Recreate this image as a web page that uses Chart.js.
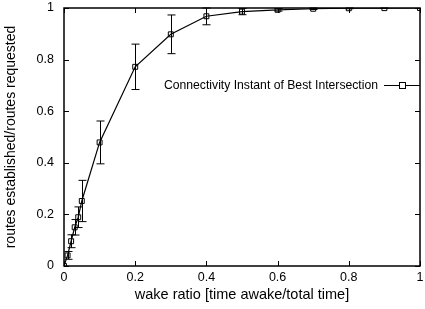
<!DOCTYPE html>
<html lang="en">
<head>
  <meta charset="UTF-8">
  <title>Connectivity vs wake ratio</title>
  <script src="https://cdn.jsdelivr.net/npm/chart.js"></script>
  <style>
    body { margin: 0; background: #fff; }
    #wrap { width: 425px; height: 309px; }
  </style>
</head>
<body>
<div id="wrap"><canvas id="c" width="425" height="309"></canvas></div>
<script>
  // data
  const wakeRatio = [0, 0.01, 0.02, 0.03, 0.04, 0.05, 0.1, 0.2, 0.3, 0.4, 0.5, 0.6, 0.7, 0.8, 0.9, 1.0];
  const routeRatio = [0, 0.041, 0.096, 0.15, 0.189, 0.252, 0.479, 0.772, 0.898, 0.968, 0.986, 0.993, 0.997, 0.999, 0.9995, 1.0];
  const errHalf = [0, 0.015, 0.025, 0.03, 0.04, 0.08, 0.083, 0.088, 0.075, 0.033, 0.012, 0.005, 0.003, 0.002, 0.001, 0];
  const xTicks = [0, 0.2, 0.4, 0.6, 0.8, 1];
  const yTicks = [0, 0.2, 0.4, 0.6, 0.8, 1];
  const seriesName = 'Connectivity Instant of Best Intersection';

  const FONT = 'Liberation Sans, Arial, sans-serif';

  // error bars, gnuplot style frame with inward ticks, legend inside plot
  const gnuplotLook = {
    id: 'gnuplotLook',
    afterDatasetsDraw(chart) {
      const ctx = chart.ctx;
      const xs = chart.scales.x, ys = chart.scales.y;
      const a = chart.chartArea;
      ctx.save();
      ctx.strokeStyle = '#000';
      ctx.lineWidth = 1;
      // error bars
      wakeRatio.forEach((x, i) => {
        if (!errHalf[i]) return;
        const px = Math.round(xs.getPixelForValue(x)) + 0.5;
        const top = ys.getPixelForValue(Math.min(routeRatio[i] + errHalf[i], 1.0));
        const bot = ys.getPixelForValue(routeRatio[i] - errHalf[i]);
        ctx.beginPath();
        ctx.moveTo(px, top); ctx.lineTo(px, bot);
        ctx.moveTo(px - 4, top); ctx.lineTo(px + 4, top);
        ctx.moveTo(px - 4, bot); ctx.lineTo(px + 4, bot);
        ctx.stroke();
      });
      // frame
      ctx.lineWidth = 1.5;
      ctx.strokeRect(a.left, a.top, a.right - a.left, a.bottom - a.top);
      // inward ticks, mirrored
      ctx.lineWidth = 1;
      xTicks.forEach(v => {
        const px = Math.round(xs.getPixelForValue(v)) + 0.5;
        ctx.beginPath();
        ctx.moveTo(px, a.bottom); ctx.lineTo(px, a.bottom - 5);
        ctx.moveTo(px, a.top); ctx.lineTo(px, a.top + 5);
        ctx.stroke();
      });
      yTicks.forEach(v => {
        const py = Math.round(ys.getPixelForValue(v)) + 0.5;
        ctx.beginPath();
        ctx.moveTo(a.left, py); ctx.lineTo(a.left + 5, py);
        ctx.moveTo(a.right, py); ctx.lineTo(a.right - 5, py);
        ctx.stroke();
      });
      // legend
      const ly = 85.5;
      ctx.font = '12.2px ' + FONT;
      ctx.fillStyle = '#000';
      ctx.textAlign = 'right';
      ctx.textBaseline = 'middle';
      ctx.fillText(seriesName, 378, ly);
      ctx.beginPath();
      ctx.moveTo(384, ly); ctx.lineTo(a.right, ly);
      ctx.stroke();
      ctx.fillStyle = '#fff';
      ctx.fillRect(399.5, ly - 3, 6, 6);
      ctx.strokeRect(399.5, ly - 3, 6, 6);
      ctx.restore();
    }
  };

  new Chart(document.getElementById('c'), {
    type: 'scatter',
    data: {
      datasets: [{
        label: seriesName,
        data: wakeRatio.map((x, i) => ({ x: x, y: routeRatio[i] })),
        showLine: true,
        borderColor: '#000',
        borderWidth: 1.2,
        pointStyle: 'rect',
        pointRadius: 3.5,
        pointBorderWidth: 1,
        pointBorderColor: '#000',
        pointBackgroundColor: 'rgba(255,255,255,0)',
        tension: 0
      }]
    },
    options: {
      responsive: false,
      animation: false,
      events: [],
      layout: { padding: { top: 8, right: 2, left: 0, bottom: 0 } },
      plugins: { legend: { display: false }, tooltip: { enabled: false } },
      scales: {
        x: {
          type: 'linear', min: 0, max: 1,
          afterBuildTicks: s => { s.ticks = xTicks.map(v => ({ value: v })); },
          afterFit: s => { s.height = 43; s.paddingLeft = 0; s.paddingRight = 0; },
          grid: { display: false, drawTicks: false },
          border: { display: false },
          ticks: {
            color: '#000', font: { family: FONT, size: 12.5 }, padding: 4,
            maxRotation: 0, callback: v => String(v)
          },
          title: {
            display: true, text: 'wake ratio [time awake/total time]',
            color: '#000', font: { family: FONT, size: 14.5 }, padding: { top: 0, bottom: 5 }
          }
        },
        y: {
          type: 'linear', min: 0, max: 1,
          afterBuildTicks: s => { s.ticks = yTicks.map(v => ({ value: v })); },
          afterFit: s => { s.width = 64; s.paddingTop = 0; s.paddingBottom = 0; },
          grid: { display: false, drawTicks: false },
          border: { display: false },
          ticks: {
            color: '#000', font: { family: FONT, size: 12.5 }, padding: 10,
            callback: v => String(v)
          },
          title: {
            display: true, text: 'routes established/routes requested',
            color: '#000', font: { family: FONT, size: 14 }, padding: { top: 3, bottom: 0 }
          }
        }
      }
    },
    plugins: [gnuplotLook]
  });
</script>
</body>
</html>
